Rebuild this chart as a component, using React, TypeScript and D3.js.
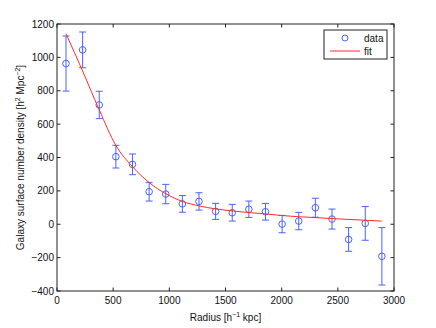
import React from 'react';
import { scaleLinear, line, curveMonotoneX } from 'd3';

const radius = [80, 228, 376, 524, 672, 820, 968, 1116, 1264, 1412, 1560, 1708, 1856, 2004, 2152, 2300, 2448, 2596, 2744, 2892];
const density = [963, 1045, 715, 405, 359, 195, 181, 122, 137, 77, 69, 90, 75, 1, 19, 99, 31, -91, 5, -192];
const errors = [165, 107, 82, 68, 62, 56, 58, 50, 52, 48, 50, 49, 50, 52, 52, 57, 60, 71, 101, 172];
const fitValues = [1142, 918, 685, 472, 345, 250, 183, 137, 110, 92, 80, 70, 62, 52, 45, 40, 34, 29, 24, 19];
const xTicks = [0, 500, 1000, 1500, 2000, 2500, 3000];
const yTicks = [-400, -200, 0, 200, 400, 600, 800, 1000, 1200];

const W = 436;
const H = 328;
const margin = { top: 24, right: 42, bottom: 37, left: 57 };
const blue = '#4a62ff';
const red = '#ff2a2a';
const axisColor = '#222';
const font = '"Liberation Sans", Arial, Helvetica, sans-serif';

const App = () => {
  const x = scaleLinear().domain([0, 3000]).range([margin.left, W - margin.right]);
  const y = scaleLinear().domain([-400, 1200]).range([H - margin.bottom, margin.top]);
  const fitLine = line<number>()
    .x((_, i) => x(radius[i]))
    .y((d) => y(d))
    .curve(curveMonotoneX);
  const [x0, x1] = x.range();
  const [y0, y1] = y.range();
  const tick = 3.5;

  return (
    <svg width={W} height={H} style={{ position: 'absolute', left: 0, top: 0 }} fontFamily={font}>
      <rect x={0} y={0} width={W} height={H} fill="#fff" />
      <rect x={x0} y={y1} width={x1 - x0} height={y0 - y1} fill="#fff" stroke={axisColor} strokeWidth={1} />

      {xTicks.map((t) => (
        <g key={`x${t}`}>
          <line x1={x(t)} x2={x(t)} y1={y0} y2={y0 - tick} stroke={axisColor} />
          <line x1={x(t)} x2={x(t)} y1={y1} y2={y1 + tick} stroke={axisColor} />
          <text x={x(t)} y={y0 + 13} fontSize={10} textAnchor="middle" fill="#111">{t}</text>
        </g>
      ))}
      {yTicks.map((t) => (
        <g key={`y${t}`}>
          <line x1={x0} x2={x0 + tick} y1={y(t)} y2={y(t)} stroke={axisColor} />
          <line x1={x1} x2={x1 - tick} y1={y(t)} y2={y(t)} stroke={axisColor} />
          <text x={x0 - 3} y={y(t) + 3.5} fontSize={10} textAnchor="end" fill="#111">
            {t < 0 ? `\u2212${-t}` : t}
          </text>
        </g>
      ))}

      {radius.map((r, i) => {
        const cx = x(r);
        const top = y(density[i] + errors[i]);
        const bot = y(density[i] - errors[i]);
        return (
          <g key={`e${i}`} stroke={blue} strokeWidth={1} fill="none">
            <line x1={cx} x2={cx} y1={top} y2={bot} />
            <line x1={cx - 3.5} x2={cx + 3.5} y1={top} y2={top} />
            <line x1={cx - 3.5} x2={cx + 3.5} y1={bot} y2={bot} />
            <circle cx={cx} cy={y(density[i])} r={3.3} />
          </g>
        );
      })}

      <path d={fitLine(fitValues) ?? ''} fill="none" stroke={red} strokeWidth={1} />

      <g>
        <rect x={324} y={30} width={63} height={29} fill="#fff" stroke={axisColor} strokeWidth={1} />
        <circle cx={345} cy={38} r={3} fill="none" stroke={blue} />
        <text x={364} y={41.5} fontSize={10} fill="#111">data</text>
        <line x1={330} x2={360} y1={51} y2={51} stroke={red} />
        <text x={364} y={54.5} fontSize={10} fill="#111">fit</text>
      </g>

      <text x={(x0 + x1) / 2} y={321} fontSize={10} textAnchor="middle" fill="#111">
        Radius [h<tspan dy={-4} fontSize={7}>{'\u22121'}</tspan><tspan dy={4}> kpc]</tspan>
      </text>
      <text transform={`translate(24,${(y0 + y1) / 2}) rotate(-90)`} fontSize={10} textAnchor="middle" fill="#111">
        Galaxy surface number density [h<tspan dy={-4} fontSize={7}>2</tspan>
        <tspan dy={4}> Mpc</tspan><tspan dy={-4} fontSize={7}>{'\u22122'}</tspan><tspan dy={4}>]</tspan>
      </text>
    </svg>
  );
};

export default App;
